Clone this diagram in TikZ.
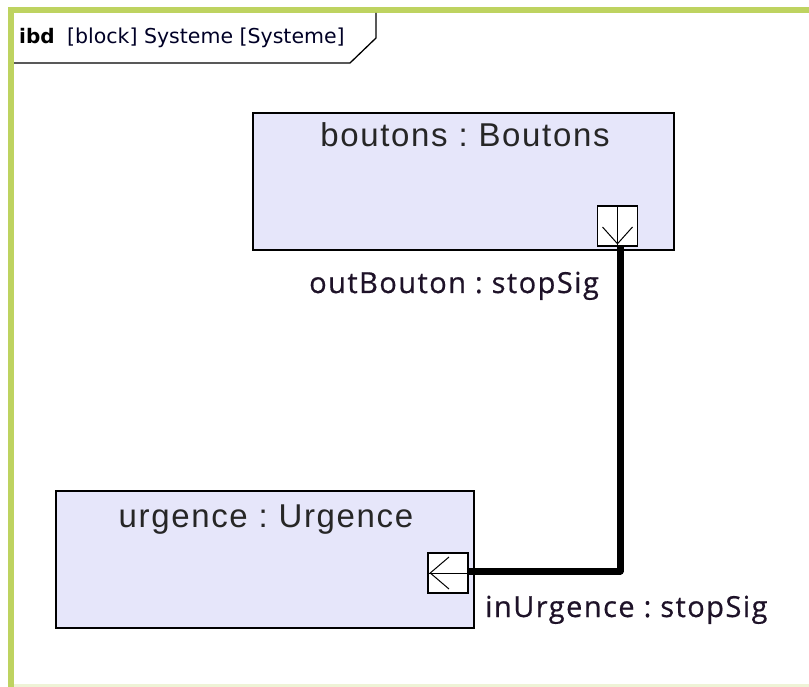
\documentclass[tikz,border=0pt]{standalone}
\usepackage{fontspec}
\setmainfont{Liberation Sans}[LetterSpace=5]
\newfontfamily\tabfont{DejaVu Sans}
\newfontfamily\labelfont{Open Sans}[LetterSpace=5, FakeBold=0.6]
\usetikzlibrary{calc}
\definecolor{framegreen}{RGB}{190,211,96}
\definecolor{framefaint}{RGB}{238,243,214}
\definecolor{blockfill}{RGB}{230,230,250}
\definecolor{labelink}{RGB}{30,18,40}
\tikzset{
  blockbox/.style={draw=black, line width=1.5pt, fill=blockfill},
  portbox/.style={draw=black, line width=1.5pt, fill=white, minimum width=40pt, minimum height=40pt, inner sep=0pt},
  portglyph/.style={draw=black, line width=1pt},
  wire/.style={draw=black, line width=7pt, line join=round},
  blocktitle/.style={font=\fontsize{33}{36}\selectfont, text=black!85, anchor=base, inner sep=0pt},
  portlabel/.style={font=\labelfont\fontsize{29}{31}\selectfont, text=labelink, anchor=base west, inner sep=0pt},
}
\frenchspacing
\begin{document}
\frenchspacing
\begin{tikzpicture}[x=1pt, y=-1pt]
  \useasboundingbox (0,0) rectangle (809,687);
  \fill[white] (0,0) rectangle (809,687);

  % diagram frame
  \fill[framefaint] (8,684) rectangle (809,687);
  \fill[framegreen] (8,7) rectangle (809,13);
  \fill[framegreen] (8,7) rectangle (14,687);

  % name tab
  \draw[line width=1.3pt] (14,63) -- (350,63) -- (376,38) -- (376,13);
  \node[anchor=base west, inner sep=0pt, font=\tabfont\bfseries\fontsize{20}{22}\selectfont] (tabkind) at (19,44) {ibd};
  \node[anchor=base west, inner sep=0pt, font=\tabfont\fontsize{20.5}{22}\selectfont, text=black!85!blue] (tabname) at (67,44) {[block] Systeme [Systeme]};

  % block boutons
  \path[blockbox] (253,113) rectangle (674,250);
  \node[blocktitle] (boutonsT) at (465,147) {boutons : Boutons};
  \node[portbox] (outP) at (617.5,226) {};
  \draw[portglyph] (outP.north) -- (outP.south);
  \draw[portglyph] ($(outP.center)+(-15,1)$) -- ($(outP.south)+(0,-3)$) -- ($(outP.center)+(15,1)$);
  \node[portlabel] (outL) at (309,293) {outBouton : stopSig};

  % block urgence
  \path[blockbox] (56,491) rectangle (474,628);
  \node[blocktitle] (urgenceT) at (266,527) {urgence : Urgence};
  \node[portbox] (inP) at (448,573) {};
  \draw[portglyph] (inP.west) -- (inP.east);
  \draw[portglyph] ($(inP.center)+(1,-16)$) -- ($(inP.west)+(3,0)$) -- ($(inP.center)+(1,16)$);
  \node[portlabel] (inL) at (485,617) {inUrgence : stopSig};

  % connector
  \draw[wire] (outP.south -| 620,0) -- (620,571) -- (inP.east |- 0,571);
\end{tikzpicture}
\end{document}
